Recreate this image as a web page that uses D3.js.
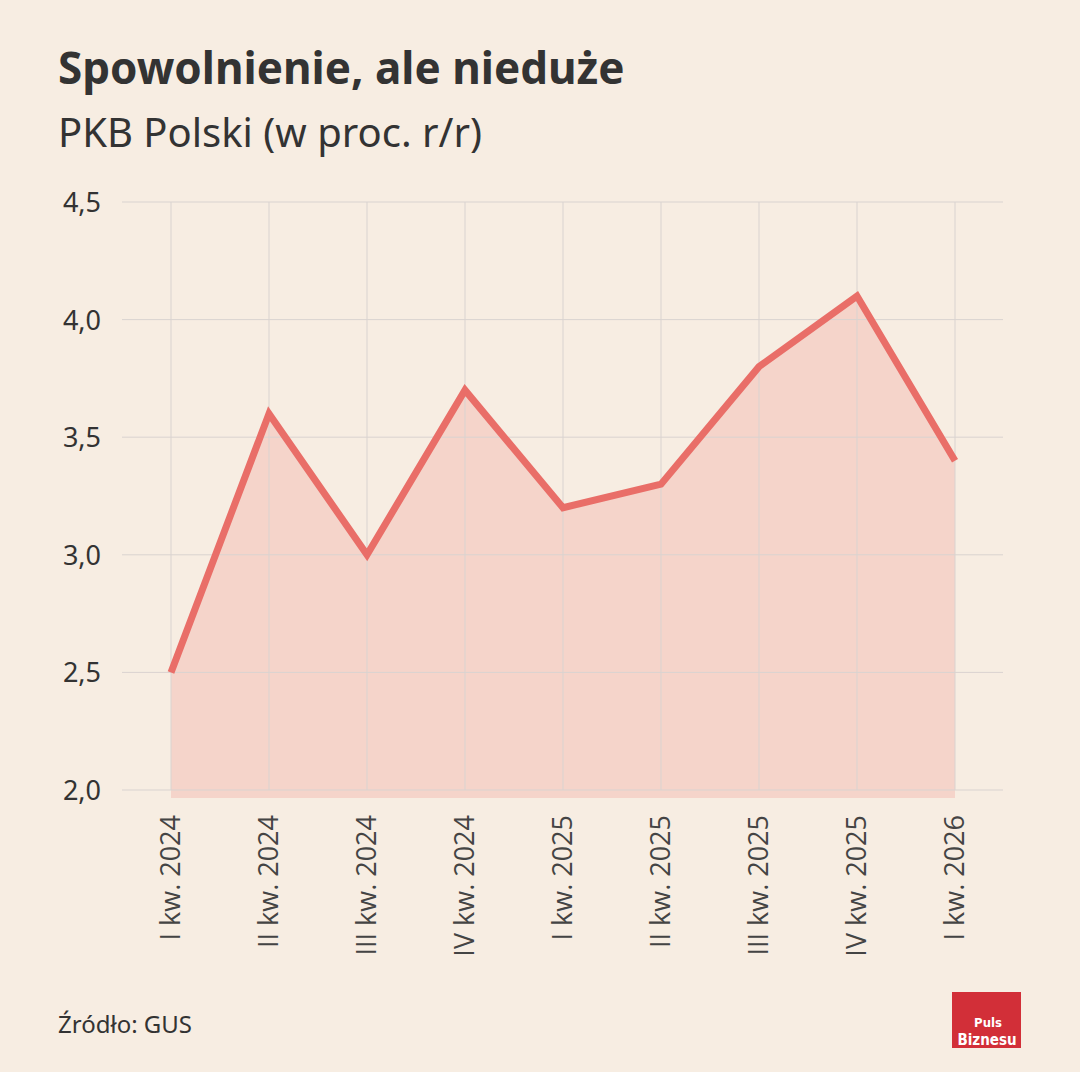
<!DOCTYPE html>
<html lang="pl">
<head>
  <meta charset="UTF-8" />
  <title>Spowolnienie, ale nieduże</title>
  <style>
    html, body { margin: 0; padding: 0; background: #f7ede2; }
    body { font-family: "Noto Sans", sans-serif; }
    #chart { display: block; }
    .grid line { stroke: #d9d3d0; stroke-width: 1; }
  </style>
</head>
<body>
  <svg id="chart" width="1080" height="1072"></svg>
  <script src="https://cdn.jsdelivr.net/npm/d3@7"></script>
  <script>
    // data
    const quarters = ["I kw. 2024", "II kw. 2024", "III kw. 2024", "IV kw. 2024",
                      "I kw. 2025", "II kw. 2025", "III kw. 2025", "IV kw. 2025", "I kw. 2026"];
    const gdp = [2.5, 3.6, 3.0, 3.7, 3.2, 3.3, 3.8, 4.1, 3.4];
    const yTicks = [2.0, 2.5, 3.0, 3.5, 4.0, 4.5];

    const svg = d3.select("#chart");
    const margin = {top: 202, left: 122, right: 77, bottom: 282};
    const W = 1080, H = 1072;

    const x = d3.scalePoint()
      .domain(quarters)
      .range([171, 955]);

    const y = d3.scaleLinear()
      .domain([2.0, 4.5])
      .range([H - margin.bottom, margin.top]);

    const fmt = d => d3.format(".1f")(d).replace(".", ",");

    // title & subtitle
    svg.append("text")
      .attr("x", 58).attr("y", 84)
      .attr("fill", "#333")
      .style("font-size", "44px").style("font-weight", "700")
      .text("Spowolnienie, ale nieduże");

    svg.append("text")
      .attr("x", 58).attr("y", 147)
      .attr("fill", "#333")
      .style("font-size", "40px")
      .text("PKB Polski (w proc. r/r)");

    // area first (dips a touch below the baseline, as in the original)
    const area = d3.area()
      .x((d, i) => x(quarters[i]))
      .y0(y(1.966))
      .y1(d => y(d));

    svg.append("path")
      .datum(gdp)
      .attr("d", area)
      .attr("fill", "#f5d4ca");

    // horizontal grid
    svg.append("g").attr("class", "grid")
      .selectAll("line")
      .data(yTicks)
      .enter().append("line")
        .attr("x1", margin.left).attr("x2", W - margin.right)
        .attr("y1", d => y(d)).attr("y2", d => y(d));

    // vertical grid
    svg.append("g").attr("class", "grid")
      .selectAll("line")
      .data(quarters)
      .enter().append("line")
        .attr("x1", d => x(d)).attr("x2", d => x(d))
        .attr("y1", y(4.5)).attr("y2", y(2.0));

    const line = d3.line()
      .x((d, i) => x(quarters[i]))
      .y(d => y(d));

    svg.append("path")
      .datum(gdp)
      .attr("d", line)
      .attr("fill", "none")
      .attr("stroke", "#e96e68")
      .attr("stroke-width", 7)
      .attr("stroke-linejoin", "miter");

    // y labels
    svg.append("g")
      .selectAll("text")
      .data(yTicks)
      .enter().append("text")
        .attr("x", 101)
        .attr("y", d => y(d) + 10)
        .attr("text-anchor", "end")
        .attr("fill", "#333")
        .style("font-size", "27px")
        .text(fmt);

    // x labels, rotated
    svg.append("g")
      .selectAll("text")
      .data(quarters)
      .enter().append("text")
        .attr("transform", d => `translate(${x(d) + 9},815) rotate(-90)`)
        .attr("text-anchor", "end")
        .attr("fill", "#444")
        .style("font-family", "'Open Sans', sans-serif")
        .style("font-size", "27px")
        .text(d => d);

    // source
    svg.append("text")
      .attr("x", 58).attr("y", 1033)
      .attr("fill", "#333")
      .style("font-size", "24px")
      .text("Źródło: GUS");

    // logo
    const logo = svg.append("g").attr("transform", "translate(952,992)");
    logo.append("rect")
      .attr("width", 69).attr("height", 56)
      .attr("fill", "#d22f38");
    logo.append("text")
      .attr("x", 36).attr("y", 35)
      .attr("text-anchor", "middle")
      .attr("fill", "#fff")
      .style("font-family", "'Liberation Sans Narrow', 'DejaVu Sans Condensed', sans-serif")
      .style("font-weight", "700").style("font-size", "13px")
      .text("Puls");
    logo.append("text")
      .attr("x", 35).attr("y", 53)
      .attr("text-anchor", "middle")
      .attr("fill", "#fff")
      .style("font-family", "'Liberation Sans Narrow', 'DejaVu Sans Condensed', sans-serif")
      .style("font-weight", "700").style("font-size", "15px")
      .text("Biznesu");
  </script>
</body>
</html>
